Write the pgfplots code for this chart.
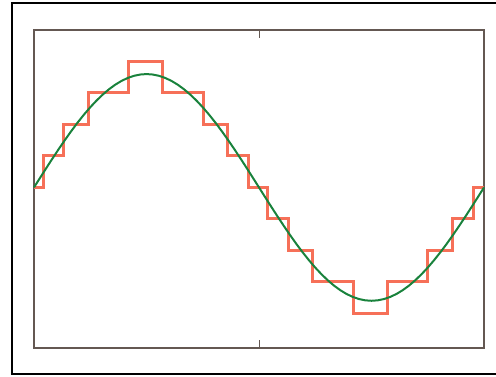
\documentclass[border=0pt]{standalone}
\usepackage{pgfplots}
\pgfplotsset{compat=1.18}
\definecolor{stair}{RGB}{246,112,88}
\definecolor{sinegreen}{RGB}{25,130,60}
\definecolor{frame}{RGB}{100,88,82}
\begin{document}
\begin{tikzpicture}[x=1pt,y=1pt]
\useasboundingbox (-34,-28) rectangle (462,348);
\draw[black,line width=2pt] (-22,-26) -- (-22,345);
\draw[black,line width=2pt] (-23,345) -- (462,345);
\draw[black,line width=2pt] (-23,-26) -- (462,-26);
\begin{axis}[
  at={(0,0)}, anchor=south west,
  scale only axis,
  width=450pt, height=318pt,
  xmin=0, xmax=360, ymin=-5.1, ymax=5.0,
  xtick={180}, ytick=\empty,
  xticklabels={},
  tick align=inside,
  major tick length=8pt,
  tick style={frame, line width=1pt},
  axis line style={frame, line width=1.5pt},
  clip=false,
]
\addplot[const plot, stair, line width=3pt, line join=miter] coordinates {
(0,0) (7.5,1) (23.5,2) (43.5,3) (75.5,4) (103,3) (135.5,2) (155,1) (171.5,0)
(187,-1) (203.5,-2) (223,-3) (255.5,-4) (283,-3) (315,-2) (335,-1) (351.5,0) (360,0)
};
\addplot[sinegreen, line width=2pt] coordinates {
(0,0) (5,0.314) (10,0.625) (15,0.932) (20,1.231) (25,1.521) (30,1.8) (35,2.065)
(40,2.314) (45,2.546) (50,2.758) (55,2.949) (60,3.118) (65,3.263) (70,3.383)
(75,3.477) (80,3.545) (85,3.586) (90,3.6) (95,3.586) (100,3.545) (105,3.477)
(110,3.383) (115,3.263) (120,3.118) (125,2.949) (130,2.758) (135,2.546)
(140,2.314) (145,2.065) (150,1.8) (155,1.521) (160,1.231) (165,0.932)
(170,0.625) (175,0.314) (180,0)
(185,-0.314) (190,-0.625) (195,-0.932) (200,-1.231) (205,-1.521) (210,-1.8)
(215,-2.065) (220,-2.314) (225,-2.546) (230,-2.758) (235,-2.949) (240,-3.118)
(245,-3.263) (250,-3.383) (255,-3.477) (260,-3.545) (265,-3.586) (270,-3.6)
(275,-3.586) (280,-3.545) (285,-3.477) (290,-3.383) (295,-3.263) (300,-3.118)
(305,-2.949) (310,-2.758) (315,-2.546) (320,-2.314) (325,-2.065) (330,-1.8)
(335,-1.521) (340,-1.231) (345,-0.932) (350,-0.625) (355,-0.314) (360,0)
};
\end{axis}
\end{tikzpicture}
\end{document}
